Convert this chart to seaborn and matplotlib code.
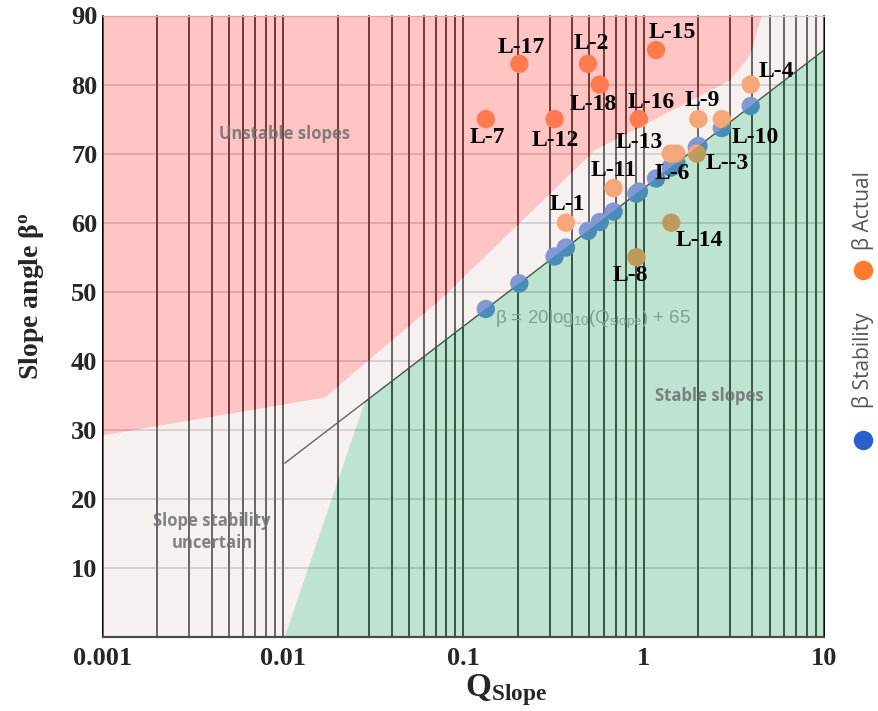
import numpy as np
import pandas as pd
import matplotlib
matplotlib.use("Agg")
import matplotlib.pyplot as plt
import seaborn as sns
from matplotlib.patches import Polygon
from matplotlib.lines import Line2D
from matplotlib.ticker import NullLocator

# ---- site data -------------------------------------------------------------
sites = ["L-1", "L-2", "L--3", "L-4", "L-6", "L-7", "L-8", "L-9", "L-10",
         "L-11", "L-12", "L-13", "L-14", "L-15", "L-16", "L-17", "L-18"]
q_slope = [0.37, 0.49, 1.97, 3.92, 1.52, 0.133, 0.91, 2.01, 2.71,
           0.68, 0.32, 1.41, 1.42, 1.17, 0.94, 0.204, 0.57]
beta_actual = [60, 83, 70, 80, 70, 75, 55, 75, 75,
               65, 75, 70, 60, 85, 75, 83, 80]
beta_stability = [56.4, 58.8, 70.9, 76.9, 68.6, 47.5, 64.2, 71.1, 73.7,
                  61.6, 55.1, 68.0, 68.0, 66.4, 64.5, 51.2, 60.1]
# label offsets in pixels (dx right, dy up)
label_dx = [1, 3, 30, 26, -4, 2, -6, 4, 33, 0, 1, -31, 28, 16, 12, 2, -7]
label_dy = [18, 20, -10, 13, -20, -18, -18, 19, -18, 18, -21, 11, -18, 18, 17, 16, -20]

# ---- zone boundaries ------------------------------------------------------
red_edge_q = [0.001, 0.0171, 0.0344, 0.0741, 0.537, 3.01, 3.88, 4.53]
red_edge_beta = [29.2, 34.7, 41.5, 48.8, 70.5, 80.6, 84.2, 90.0]
green_edge_q = [0.0102, 0.0284, 10.0]
green_edge_beta = [0.0, 34.1, 85.0]
eq_line_q = [0.0102, 10.0]

x_ticks = [0.001, 0.01, 0.1, 1, 10]
x_tick_labels = ["0.001", "0.01", "0.1", "1", "10"]
y_ticks = [10, 20, 30, 40, 50, 60, 70, 80, 90]

c_blue = "#2b5fd0"
c_orange = "#ff7a2a"

sns.set_theme(style="white")
plt.rcParams["font.family"] = ["Liberation Serif", "DejaVu Sans"]
plt.rcParams["mathtext.fontset"] = "custom"
plt.rcParams["mathtext.rm"] = "Liberation Serif:bold"
plt.rcParams["mathtext.bf"] = "Liberation Serif:bold"
plt.rcParams["mathtext.it"] = "Liberation Serif:italic"
plt.rcParams["mathtext.sf"] = "Liberation Sans"

W, H = 879, 711
fig = plt.figure(figsize=(W / 100, H / 100), dpi=100)
ax = fig.add_axes([103 / W, 1 - 637 / H, (824 - 103) / W, (637 - 15.5) / H])
ax.set_xscale("log")
ax.set_xlim(0.001, 10)
ax.set_ylim(0, 90)

# grid: dark log lines, faint horizontal lines
for d in range(-3, 1):
    for m in range(1, 10):
        ax.axvline(m * 10.0 ** d, color="black", lw=1.4, zorder=1, clip_on=False)
ax.axvline(10, color="black", lw=1.4, zorder=1, clip_on=False)
for y in range(10, 90, 10):
    ax.axhline(y, color="#c4c4c4", lw=1.3, zorder=0.9)

# stability line
eq_q = np.array(eq_line_q)
ax.plot(eq_q, 20 * np.log10(eq_q) + 65, color="black", lw=1.0, zorder=1.5)

# points
df = pd.DataFrame({
    "site": sites * 2,
    "Q": q_slope * 2,
    "beta": beta_stability + beta_actual,
    "series": ["β Stability"] * len(sites) + ["β Actual"] * len(sites),
})
sns.scatterplot(data=df, x="Q", y="beta", hue="series",
                palette={"β Stability": c_blue, "β Actual": c_orange},
                s=175, linewidth=0, legend=False, zorder=2, ax=ax)

# translucent zones on top
red_poly = list(zip(red_edge_q, red_edge_beta)) + [(0.001, 90.0)]
green_poly = list(zip(green_edge_q, green_edge_beta)) + [(10.0, 0.0)]
white_poly = (list(zip(red_edge_q, red_edge_beta)) + [(10.0, 90.0)]
              + list(zip(green_edge_q[::-1], green_edge_beta[::-1]))
              + [(0.001, 0.0)])
for verts, col in [(white_poly, "#ecdedc"), (red_poly, "#ff7e7e"), (green_poly, "#6fc397")]:
    ax.add_patch(Polygon(verts, closed=True, facecolor=col, edgecolor="none",
                         alpha=0.45, zorder=3))

# zone captions
zone_kw = dict(family="Open Sans", fontweight="bold", fontsize=12,
               color="#6e6e6e", alpha=0.85, ha="center", va="center", zorder=4)
ax.text(0.0102, 72.9, "Unstable slopes", **zone_kw)
ax.text(2.30, 34.9, "Stable slopes", **zone_kw)
ax.text(0.00403, 15.2, "Slope stability\nuncertain", linespacing=1.35, **zone_kw)
ax.text(0.15, 46.0, "β = 20log$_{\\mathsf{10}}$(Q$_{\\mathsf{slope}}$) + 65",
        family="Liberation Sans", fontsize=13.5, color="#7ea190",
        ha="left", va="center", zorder=4)

# site labels
for name, q, b, dx, dy in zip(sites, q_slope, beta_actual, label_dx, label_dy):
    ax.annotate(name, xy=(q, b), xytext=(dx, dy), textcoords="offset pixels",
                ha="center", va="center", fontsize=17, fontweight="bold",
                family="Liberation Serif", color="black", zorder=6)

# axes styling
ax.set_xticks(x_ticks)
ax.set_xticklabels(x_tick_labels)
ax.xaxis.set_minor_locator(NullLocator())
ax.set_yticks(y_ticks)
ax.set_yticklabels([str(v) for v in y_ticks])
ax.tick_params(axis="both", length=0, labelsize=19)
ax.tick_params(axis="x", pad=7)
ax.tick_params(axis="y", pad=4)
for lab in ax.get_xticklabels() + ax.get_yticklabels():
    lab.set_fontweight("bold")
    lab.set_family("Liberation Serif")
ax.set_xlabel("")
ax.set_ylabel("")
for side in ["left", "right"]:
    ax.spines[side].set_visible(False)
ax.spines["top"].set_color("#c8c8c8")
ax.spines["top"].set_linewidth(1.0)
ax.spines["bottom"].set_color("#4a4a4a")
ax.spines["bottom"].set_linewidth(1.6)
ax.spines["bottom"].set_zorder(5)

fig.text(32 / W, 1 - 296 / H, "Slope angle β$^{\\mathrm{o}}$", rotation=90,
         ha="center", va="center", fontsize=20, fontweight="bold",
         family="Liberation Serif")
fig.text(506 / W, 1 - 690 / H, "Q$_{\\mathrm{Slope}}$", ha="center", va="center",
         fontsize=24, fontweight="bold", family="Liberation Serif")

# vertical legend at the right
leg_x = 863 / W
fig.add_artist(Line2D([leg_x], [1 - 440 / H], transform=fig.transFigure,
                      marker="o", ms=13, color=c_blue, linestyle="none"))
fig.add_artist(Line2D([leg_x], [1 - 270 / H], transform=fig.transFigure,
                      marker="o", ms=13, color=c_orange, linestyle="none"))
fig.text(leg_x, 1 - 360 / H, "β Stability", rotation=90, ha="center", va="center",
         family="Open Sans", fontsize=15, color="#555555")
fig.text(leg_x, 1 - 211 / H, "β Actual", rotation=90, ha="center", va="center",
         family="Open Sans", fontsize=15, color="#555555")

fig.savefig("out.png", dpi=100)
